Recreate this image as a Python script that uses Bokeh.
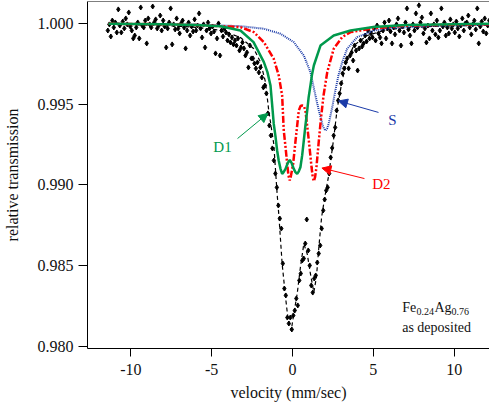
import numpy as np
from bokeh.plotting import figure
from bokeh.models import Range1d, FixedTicker, NumeralTickFormatter, Label, Arrow, NormalHead, Span
from bokeh.embed import file_html
from bokeh.resources import INLINE

# ---- measured spectrum (256 channels) ----
velocity = np.round(-11.42 + 0.0925 * np.arange(256), 4)
transmission = [
    0.99958, 0.99996, 0.99921, 1.00020, 0.99977, 1.00008, 0.99946, 1.00089, 0.99989, 0.99946,
    1.00014, 0.99971, 1.00033, 0.99996, 1.00070, 0.99983, 0.99958, 0.99909, 0.99927, 0.99977,
    1.00008, 0.99909, 1.00101, 0.99989, 0.99977, 1.00020, 0.99878, 1.00033, 0.99996, 0.99977,
    1.00107, 1.00008, 1.00027, 0.99971, 0.99989, 1.00051, 0.99958, 1.00020, 0.99983, 0.99853,
    0.99971, 1.00008, 1.00095, 0.99872, 0.99996, 0.99965, 1.00033, 0.99971, 0.99940, 1.00002,
    1.00020, 0.99977, 0.99847, 0.99958, 1.00008, 0.99927, 0.99983, 0.99952, 1.00027, 0.99958,
    0.99989, 1.00064, 0.99971, 0.99915, 0.99996, 0.99853, 0.99958, 1.00008, 0.99971, 0.99940,
    0.99983, 0.99952, 0.99816, 0.99909, 1.00002, 0.99803, 0.99958, 0.99921, 0.99971, 0.99946,
    0.99896, 0.99934, 0.99884, 0.99915, 0.99872, 0.99896, 0.99865, 0.99909, 0.99834, 0.99853,
    0.99884, 0.99847, 0.99803, 0.99822, 0.99729, 0.99865, 0.99785, 0.99785, 0.99754, 0.99723,
    0.99760, 0.99698, 0.99729, 0.99667, 0.99605, 0.99617, 0.99568, 0.99444, 0.99369, 0.99307,
    0.99227, 0.99152, 0.99071, 0.98985, 0.98873, 0.98792, 0.98730, 0.98513, 0.98358, 0.98315,
    0.98178, 0.98141, 0.98178, 0.98104, 0.98191, 0.98222, 0.98296, 0.98253, 0.98408, 0.98451,
    0.98532, 0.98544, 0.98637, 0.98786, 0.98594, 0.98501, 0.98377, 0.98333, 0.98420, 0.98439,
    0.98519, 0.98575, 0.98625, 0.98730, 0.98842, 0.98910, 0.98966, 0.98985, 0.99071, 0.99171,
    0.99230, 0.99307, 0.99357, 0.99462, 0.99524, 0.99568, 0.99630, 0.99692, 0.99723, 0.99760,
    0.99785, 0.99723, 0.99803, 0.99822, 0.99772, 0.99865, 0.99834, 0.99710, 0.99847, 0.99896,
    0.99859, 0.99878, 0.99927, 0.99890, 0.99958, 0.99909, 0.99940, 0.99915, 0.99971, 0.99896,
    0.99989, 0.99940, 0.99915, 0.99878, 0.99958, 1.00008, 0.99909, 0.99971, 1.00020, 0.99952,
    0.99878, 0.99977, 0.99934, 0.99996, 1.00033, 0.99958, 0.99865, 0.99983, 0.99946, 1.00008,
    1.00095, 0.99965, 0.99927, 0.99878, 0.99996, 0.99958, 1.00064, 0.99977, 1.00114, 1.00008,
    1.00039, 0.99940, 0.99971, 0.99884, 0.99989, 0.99909, 1.00064, 0.99958, 0.99996, 0.99934,
    1.00020, 0.99915, 0.99958, 1.00095, 0.99983, 1.00008, 0.99927, 0.99977, 0.99940, 1.00027,
    0.99971, 0.99996, 0.99946, 1.00014, 0.99971, 0.99921, 0.99989, 1.00033, 0.99958, 1.00002,
    1.00008, 1.00051, 0.99977, 0.99934, 0.99996, 1.00020, 0.99965, 1.00095, 0.99878, 0.99983,
    1.00014, 0.99952, 1.00033, 0.99940, 0.99989, 1.00020,
]

# ---- fitted total (black dashed) ----
total_x = [-11.38, -8.0, -6.0, -4.45, -3.22, -2.39, -1.98, -1.67, -1.47, -1.16, -0.95, -0.85,
           -0.64, -0.43, -0.29, -0.08, 0.08, 0.29, 0.49, 0.70, 0.91, 1.11, 1.32, 1.48, 1.63,
           1.80, 1.98, 2.24, 2.55, 2.76, 3.07, 3.38, 3.79, 4.62, 5.65, 6.68, 9.0, 12.2]
total_y = [0.99997, 0.99990, 0.99978, 0.99960, 0.99915, 0.99845, 0.99762, 0.99638, 0.99462,
           0.99256, 0.98945, 0.98821, 0.98511, 0.98304, 0.98180, 0.98097, 0.98201, 0.98325,
           0.98490, 0.98635, 0.98573, 0.98449, 0.98335, 0.98428, 0.98614, 0.98800, 0.98915,
           0.99060, 0.99290, 0.99470, 0.99648, 0.99772, 0.99865, 0.99927, 0.99958, 0.99973,
           0.99985, 0.99992]

# ---- component D1 (green) ----
d1_x = [-11.38, -8.0, -6.0, -4.45, -3.22, -2.41, -1.77, -1.55, -1.36, -1.26, -1.16, -1.05,
        -0.95, -0.85, -0.74, -0.64, -0.55, -0.43, -0.30, -0.17, -0.05, 0.08, 0.18, 0.29,
        0.39, 0.49, 0.60, 0.70, 0.80, 0.91, 1.00, 1.11, 1.20, 1.32, 1.73, 2.55, 3.59, 5.0,
        7.0, 10.0, 12.2]
d1_y = [1.0, 0.99997, 0.99993, 0.99985, 0.99958, 0.99886, 0.99762, 0.99700, 0.99617, 0.99500,
        0.99380, 0.99300, 0.99214, 0.99150, 0.99100, 0.99069, 0.99080, 0.99100, 0.99135,
        0.99156, 0.99135, 0.99100, 0.99080, 0.99069, 0.99085, 0.99110, 0.99185, 0.99276,
        0.99370, 0.99462, 0.99545, 0.99617, 0.99680, 0.99741, 0.99865, 0.99927, 0.99958,
        0.99980, 0.99992, 0.99997, 1.0]

# ---- component D2 (red) ----
d2_x = [-11.38, -8.0, -6.0, -3.22, -2.39, -1.77, -1.16, -0.85, -0.64, -0.54, -0.43, -0.33,
        -0.25, -0.17, -0.09, 0.04, 0.19, 0.39, 0.50, 0.60, 0.70, 0.80, 1.01, 1.18, 1.25,
        1.32, 1.40, 1.48, 1.63, 1.77, 1.92, 2.15, 2.55, 3.07, 3.59, 5.0, 7.0, 10.0, 12.2]
d2_y = [1.0, 0.99997, 0.99992, 0.99979, 0.99948, 0.99886, 0.99783, 0.99679, 0.99555, 0.99338,
        0.99235, 0.99131, 0.99060, 0.99028, 0.99060, 0.99131, 0.99276, 0.99462, 0.99490,
        0.99493, 0.99490, 0.99462, 0.99276, 0.99110, 0.99050, 0.99024, 0.99050, 0.99110,
        0.99276, 0.99421, 0.99555, 0.99700, 0.99845, 0.99917, 0.99948, 0.99972, 0.99988,
        0.99995, 0.99997]

# ---- component S (blue) ----
s_x = [-11.38, -6.0, -3.22, -1.77, -0.74, 0.08, 0.70, 1.11, 1.42, 1.63, 1.84, 1.94, 2.04,
       2.14, 2.24, 2.46, 2.63, 2.84, 3.07, 3.38, 4.0, 5.03, 6.06, 9.0, 12.2]
s_y = [1.0, 0.99995, 0.99985, 0.99969, 0.99938, 0.99886, 0.99803, 0.99700, 0.99555, 0.99462,
       0.99380, 0.99350, 0.99338, 0.99350, 0.99380, 0.99483, 0.99574, 0.99679, 0.99760,
       0.99845, 0.99917, 0.99958, 0.99973, 0.99988, 0.99993]

x_ticks = [-10, -5, 0, 5, 10]
x_tick_labels = ["-10", "-5", "0", "5", "10"]
y_ticks = [0.980, 0.985, 0.990, 0.995, 1.000]

GREEN = "#00994c"
RED = "#ff0000"
BLUE = "#1a3aa8"
FONT = "Liberation Serif"

p = figure(width=489, height=410, output_backend="svg", toolbar_location=None,
           x_range=Range1d(-12.678, 12.184), y_range=Range1d(0.97986, 1.00138),
           min_border_left=87, min_border_right=0, min_border_top=1, min_border_bottom=62)
p.outline_line_color = None
p.grid.visible = False
p.background_fill_color = "white"
p.border_fill_color = "white"

for ax in (p.xaxis[0], p.yaxis[0]):
    ax.axis_line_color = "black"
    ax.axis_line_width = 1
    ax.major_tick_line_color = "black"
    ax.minor_tick_line_color = None
    ax.major_tick_in = 0
    ax.major_label_text_font = FONT
    ax.major_label_text_font_size = "16px"
    ax.major_label_text_color = "#111111"
    ax.axis_label_text_font = FONT
    ax.axis_label_text_font_size = "16px"
    ax.axis_label_text_font_style = "normal"
    ax.axis_label_text_color = "#111111"

p.xaxis.ticker = FixedTicker(ticks=x_ticks)
p.xaxis.major_label_overrides = {t: s for t, s in zip(x_ticks, x_tick_labels)}
p.yaxis.ticker = FixedTicker(ticks=y_ticks)
p.yaxis.formatter = NumeralTickFormatter(format="0.000")
p.xaxis.major_tick_out = 8
p.yaxis.major_tick_out = 9
p.xaxis.major_label_standoff = 7
p.yaxis.major_label_standoff = 5
p.xaxis.axis_label = "velocity (mm/sec)"
p.yaxis.axis_label = "relative transmission"
p.xaxis.axis_label_standoff = 6
p.yaxis.axis_label_standoff = 14

p.add_layout(Span(location=1.00138, dimension="width", line_color="black", line_width=1))

p.scatter(velocity, transmission, marker="diamond", size=5, color="black")
p.line(total_x, total_y, line_color="black", line_width=1.2, line_dash="4 3")
p.line(s_x, s_y, line_color=BLUE, line_width=2, line_dash="1 1")
p.line(d2_x, d2_y, line_color=RED, line_width=2.5, line_dash="7 2 2 2 2 2")
p.line(d1_x, d1_y, line_color=GREEN, line_width=2.5)

# annotations
p.add_layout(Label(x=-4.33, y=0.99233, text="D1", text_color=GREEN, text_font=FONT,
                   text_font_size="15px", text_align="center", text_baseline="middle"))
p.add_layout(Arrow(end=NormalHead(size=9, fill_color=GREEN, line_color=GREEN),
                   x_start=-3.40, y_start=0.99288, x_end=-1.52, y_end=0.99444,
                   line_color=GREEN, line_width=1))
p.add_layout(Label(x=6.18, y=0.99400, text="S", text_color=BLUE, text_font=FONT,
                   text_font_size="15px", text_align="center", text_baseline="middle"))
p.add_layout(Arrow(end=NormalHead(size=9, fill_color=BLUE, line_color=BLUE),
                   x_start=5.32, y_start=0.99450, x_end=2.84, y_end=0.99521,
                   line_color=BLUE, line_width=1))
p.add_layout(Label(x=5.50, y=0.99009, text="D2", text_color=RED, text_font=FONT,
                   text_font_size="15px", text_align="center", text_baseline="middle"))
p.add_layout(Arrow(end=NormalHead(size=9, fill_color=RED, line_color=RED),
                   x_start=4.45, y_start=0.99040, x_end=1.82, y_end=0.99105,
                   line_color=RED, line_width=1))

txt = dict(text_font=FONT, text_color="#111111", text_baseline="alphabetic", text_align="left")
p.add_layout(Label(x=6.784, y=0.98242, text="Fe", text_font_size="14px", **txt))
p.add_layout(Label(x=7.67, y=0.98216, text="0.24", text_font_size="10px", **txt))
p.add_layout(Label(x=8.78, y=0.98242, text="Ag", text_font_size="14px", **txt))
p.add_layout(Label(x=9.83, y=0.98216, text="0.76", text_font_size="10px", **txt))
p.add_layout(Label(x=6.784, y=0.98118, text="as deposited", text_font_size="14px", **txt))

open("out.html", "w").write(file_html(p, INLINE))
